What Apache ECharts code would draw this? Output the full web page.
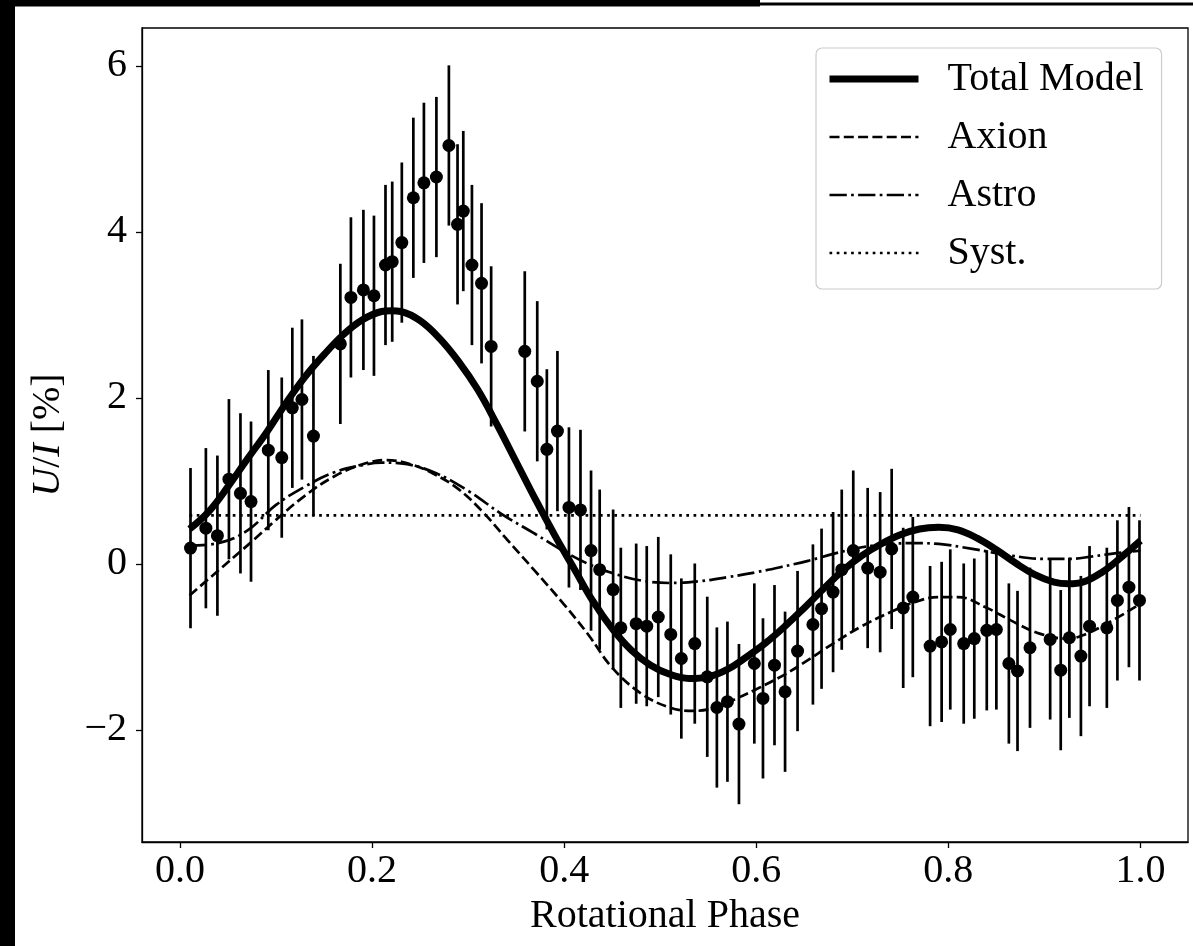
<!DOCTYPE html>
<html><head><meta charset="utf-8">
<script src="https://cdn.jsdelivr.net/npm/echarts@6/dist/echarts.min.js"></script>
<style>html,body{margin:0;padding:0;background:#fff}#chart{width:1193px;height:946px}</style>
</head><body><div id="chart"></div>
<script>
// ---- observed data (rotational phase, U/I in %) ----
const phase = [0.011,0.027,0.039,0.051,0.063,0.074,0.092,0.106,0.117,0.127,0.139,0.167,0.178,0.191,0.202,0.214,0.221,0.231,0.243,0.254,0.267,0.280,0.289,0.295,0.304,0.314,0.324,0.359,0.372,0.382,0.393,0.405,0.417,0.428,0.437,0.451,0.459,0.475,0.486,0.498,0.511,0.522,0.536,0.549,0.559,0.570,0.582,0.598,0.607,0.619,0.630,0.643,0.659,0.668,0.680,0.689,0.701,0.716,0.729,0.741,0.753,0.763,0.781,0.793,0.802,0.816,0.827,0.840,0.850,0.863,0.872,0.885,0.906,0.917,0.926,0.938,0.947,0.965,0.976,0.988,0.999];
const polarization = [0.19,0.43,0.34,1.02,0.85,0.75,1.37,1.28,1.88,1.98,1.54,2.65,3.21,3.30,3.23,3.60,3.64,3.87,4.41,4.59,4.66,5.04,4.09,4.25,3.60,3.38,2.62,2.56,2.20,1.38,1.60,0.68,0.65,0.16,-0.07,-0.31,-0.77,-0.72,-0.75,-0.64,-0.85,-1.14,-0.96,-1.36,-1.73,-1.66,-1.93,-1.20,-1.62,-1.22,-1.54,-1.05,-0.73,-0.54,-0.34,-0.07,0.16,-0.05,-0.10,0.18,-0.53,-0.40,-0.99,-0.94,-0.79,-0.96,-0.90,-0.80,-0.79,-1.20,-1.29,-1.01,-0.91,-1.28,-0.89,-1.11,-0.75,-0.77,-0.44,-0.28,-0.44];
const errorHalfWidth = 0.965;

// ---- model curves ----
const totalPhase = [0.01,0.03,0.05,0.07,0.09,0.11,0.13,0.15,0.17,0.19,0.21,0.22,0.23,0.25,0.27,0.29,0.31,0.33,0.35,0.37,0.39,0.41,0.43,0.45,0.47,0.49,0.51,0.53,0.55,0.57,0.59,0.61,0.63,0.65,0.67,0.69,0.71,0.73,0.75,0.77,0.79,0.81,0.83,0.85,0.87,0.89,0.91,0.925,0.94,0.96,0.98,1.00];
const totalModel = [0.42,0.63,0.93,1.26,1.58,1.93,2.25,2.52,2.76,2.94,3.04,3.05,3.04,2.93,2.72,2.44,2.10,1.68,1.23,0.78,0.35,-0.05,-0.45,-0.78,-1.04,-1.22,-1.33,-1.38,-1.36,-1.27,-1.12,-0.95,-0.75,-0.53,-0.30,-0.08,0.10,0.24,0.35,0.42,0.44,0.41,0.31,0.17,0.01,-0.13,-0.22,-0.24,-0.22,-0.10,0.08,0.28];
const axionPhase = [0.01,0.04,0.07,0.10,0.13,0.16,0.19,0.215,0.24,0.265,0.29,0.315,0.34,0.37,0.40,0.425,0.45,0.48,0.51,0.535,0.555,0.57,0.60,0.63,0.655,0.68,0.71,0.74,0.765,0.79,0.81,0.84,0.865,0.895,0.925,0.94,0.965,1.00];
const axionModel = [-0.38,-0.08,0.22,0.53,0.82,1.05,1.20,1.25,1.20,1.08,0.90,0.63,0.30,-0.09,-0.49,-0.85,-1.25,-1.56,-1.73,-1.77,-1.74,-1.67,-1.51,-1.33,-1.15,-0.96,-0.75,-0.58,-0.46,-0.40,-0.40,-0.53,-0.68,-0.84,-0.90,-0.86,-0.72,-0.48];
const astroPhase = [0.01,0.04,0.07,0.10,0.13,0.16,0.19,0.21,0.23,0.265,0.30,0.335,0.37,0.40,0.425,0.45,0.48,0.51,0.54,0.57,0.60,0.625,0.655,0.68,0.71,0.74,0.765,0.79,0.825,0.865,0.90,0.925,0.95,0.975,1.00];
const astroModel = [0.22,0.25,0.40,0.71,0.93,1.10,1.19,1.22,1.21,1.10,0.88,0.60,0.36,0.15,0.00,-0.11,-0.20,-0.23,-0.21,-0.16,-0.10,-0.04,0.04,0.12,0.20,0.24,0.25,0.24,0.18,0.10,0.06,0.06,0.09,0.13,0.16];
const systPhase = [0.01,1.00];
const systModel = [0.585,0.585];

// ---- tick labels ----
const xTicks = [0.0,0.2,0.4,0.6,0.8,1.0];
const yTicks = [-2,0,2,4,6];

const FONT = '"Liberation Serif", "DejaVu Serif", serif';
const zip = (a,b) => a.map((v,i)=>[v,b[i]]);
const errData = phase.map((x,i)=>[x, polarization[i]-errorHalfWidth, polarization[i]+errorHalfWidth]);

const DASH = [10,4.3], DASHDOT = [17.3,4.3,2.7,4.3], DOT = [2.7,4.5];

const chart = echarts.init(document.getElementById('chart'), null, {renderer:'canvas'});
chart.setOption({
  animation:false,
  backgroundColor:'#fff',
  grid:{left:142,top:28,right:5,bottom:104,show:true,borderColor:'#000',borderWidth:1.3,backgroundColor:'transparent'},
  xAxis:{type:'value',min:-0.0395,max:1.0495,
    name:'Rotational Phase',nameLocation:'middle',nameGap:54,
    nameTextStyle:{fontFamily:FONT,fontSize:40,color:'#000'},
    axisLine:{show:true,onZero:false,lineStyle:{color:'#000',width:1.3}},
    axisTick:{show:true,length:6,customValues:xTicks,lineStyle:{color:'#000',width:1.3}},
    axisLabel:{customValues:xTicks,margin:9,fontFamily:FONT,fontSize:40,color:'#000',formatter:v=>v.toFixed(1)},
    splitLine:{show:false}},
  yAxis:{type:'value',min:-3.35,max:6.455,
    name:'{i|U}/{i|I} [%]',nameLocation:'middle',nameGap:74,nameRotate:90,
    nameTextStyle:{fontFamily:FONT,fontSize:40,color:'#000',rich:{i:{fontFamily:FONT,fontSize:40,fontStyle:'italic',color:'#000'}}},
    axisLine:{show:true,onZero:false,lineStyle:{color:'#000',width:1.3}},
    axisTick:{show:true,length:6,customValues:yTicks,lineStyle:{color:'#000',width:1.3}},
    axisLabel:{customValues:yTicks,margin:15,fontFamily:FONT,fontSize:40,color:'#000',formatter:v=>(v<0?'\u2212'+Math.abs(v):String(v))},
    splitLine:{show:false}},
  legend:{
    data:[
      {name:'Total Model',itemStyle:{opacity:0},lineStyle:{width:7,type:'solid',color:'#000'}},
      {name:'Axion',itemStyle:{opacity:0},lineStyle:{width:2.7,type:DASH,color:'#000'}},
      {name:'Astro',itemStyle:{opacity:0},lineStyle:{width:2.7,type:DASHDOT,color:'#000'}},
      {name:'Syst.',itemStyle:{opacity:0},lineStyle:{width:2.7,type:DOT,color:'#000'}}
    ],
    orient:'vertical',left:816,top:48,
    itemWidth:89,itemHeight:14,itemGap:18,selectedMode:false,
    itemStyle:{opacity:0},
    padding:[11,18,16,10],backgroundColor:'rgba(255,255,255,0.8)',borderColor:'#cccccc',borderWidth:1.2,borderRadius:6,
    textStyle:{fontFamily:FONT,fontSize:40,color:'#000',padding:[0,0,0,24]}},
  graphic:[
    {type:'rect',shape:{x:0,y:0,width:15,height:946},style:{fill:'#000'},z:100},
    {type:'rect',shape:{x:0,y:0,width:760,height:6.5},style:{fill:'#000'},z:100},
    {type:'rect',shape:{x:760,y:2.5,width:433,height:3},style:{fill:'#000'},z:100}
  ],
  series:[
    {type:'custom',name:'errors',data:errData,encode:{x:0,y:[1,2]},z:2,
      renderItem:(params,api)=>{
        const x=api.value(0);
        const lo=api.coord([x,api.value(1)]);
        const hi=api.coord([x,api.value(2)]);
        return {type:'line',shape:{x1:lo[0],y1:lo[1],x2:hi[0],y2:hi[1]},style:{stroke:'#000',lineWidth:2.7}};
      }},
    {type:'scatter',name:'data',data:zip(phase,polarization),symbol:'circle',symbolSize:13,itemStyle:{color:'#000',opacity:1},z:3},
    {type:'line',name:'Total Model',data:zip(totalPhase,totalModel),symbol:'none',smooth:0.4,lineStyle:{color:'#000',width:7},itemStyle:{color:'#000'},z:4},
    {type:'line',name:'Axion',data:zip(axionPhase,axionModel),symbol:'none',smooth:0.4,lineStyle:{color:'#000',width:2.7,type:DASH},itemStyle:{color:'#000'},z:4},
    {type:'line',name:'Astro',data:zip(astroPhase,astroModel),symbol:'none',smooth:0.4,lineStyle:{color:'#000',width:2.7,type:DASHDOT},itemStyle:{color:'#000'},z:4},
    {type:'line',name:'Syst.',data:zip(systPhase,systModel),symbol:'none',lineStyle:{color:'#000',width:2.7,type:DOT},itemStyle:{color:'#000'},z:4}
  ]
});
</script></body></html>
